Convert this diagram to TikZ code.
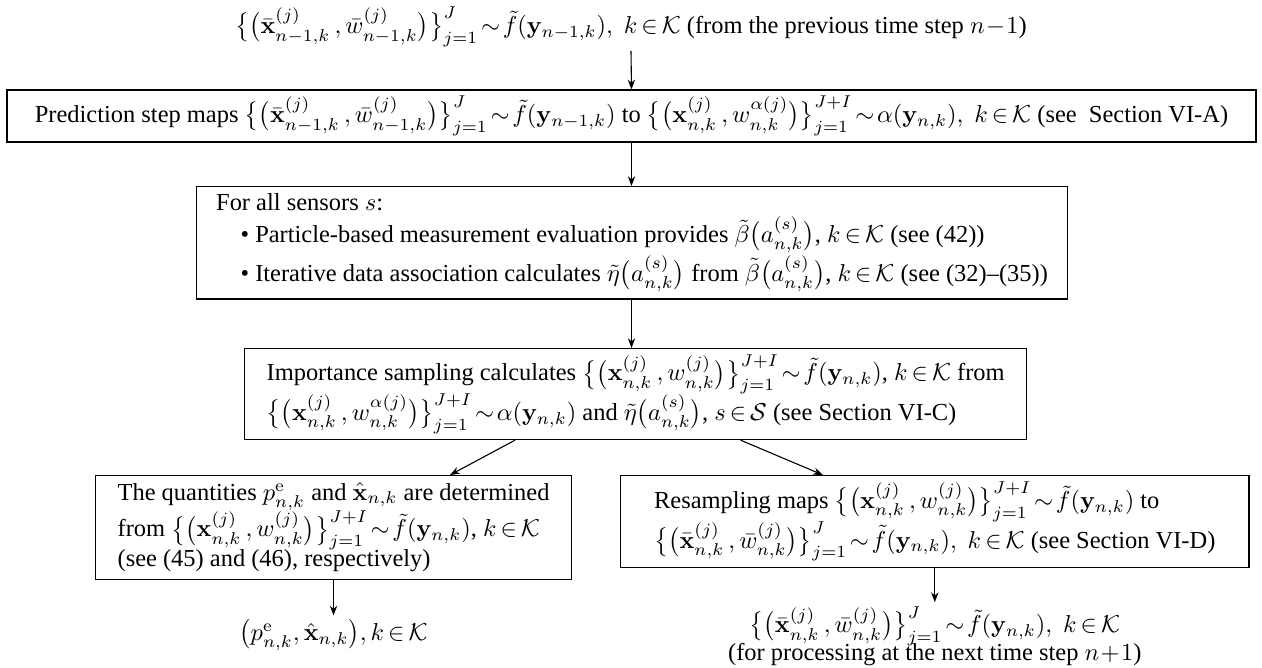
\documentclass[tikz,border=0pt]{standalone}
\usepackage{amsmath}
\usepackage[no-math]{fontspec}
\setmainfont{Liberation Serif}
\usetikzlibrary{arrows.meta,calc}
\newcommand{\PartBar}[1]{\big\{\big(\bar{\mathbf{x}}^{(j)}_{#1}\,, \bar{w}^{(j)}_{#1}\big)\big\}_{j=1}^{J}}
\newcommand{\PartW}{\big\{\big(\mathbf{x}^{(j)}_{n,k}\,, w^{(j)}_{n,k}\big)\big\}_{j=1}^{J+I}}
\newcommand{\PartA}{\big\{\big(\mathbf{x}^{(j)}_{n,k}\,, w^{\alpha(j)}_{n,k}\big)\big\}_{j=1}^{J+I}}
\newcommand{\Kset}{k\,{\in}\,\mathcal{K}}
\newcommand{\Aset}[1]{a^{(s)}_{n,k}}
\newcommand{\tsim}{\!\sim\!}
\begin{document}
\begin{tikzpicture}[x=0.409pt,y=-0.409pt,
  box/.style={draw,line width=0.5pt,inner ysep=2pt},
  lbox/.style={box,align=left,anchor=north west,inner xsep=9pt},
  plain/.style={inner sep=1.5pt,align=center},
  arr/.style={-{Stealth[length=4pt,width=3pt,inset=1.3pt]},line width=0.45pt}]
\useasboundingbox (0,0) rectangle (1262,668);

\node[plain] (top) at (631,27)
  {$\PartBar{n-1,k}\tsim\tilde{f}(\mathbf{y}_{n-1,k}),\; \Kset$ (from the previous time step $n\!-\!1$)};

\node[box,minimum width=510.8pt,minimum height=21.3pt] (pred) at (631.5,116)
  {Prediction step maps $\PartBar{n-1,k}\tsim\tilde{f}(\mathbf{y}_{n-1,k})$ to $\PartA\tsim\alpha(\mathbf{y}_{n,k}),\; \Kset$ (see~ Section VI-A)};

\node[lbox,inner xsep=8pt,minimum height=46pt] (sens) at (196,186)
  {For all sensors $s$:\\[1pt]
   \hspace*{10pt}\textbullet\ Particle-based measurement evaluation provides $\tilde{\beta}\big(\Aset{}\big)$, $\Kset$ (see (42))\\[0pt]
   \hspace*{10pt}\textbullet\ Iterative data association calculates $\tilde{\eta}\big(\Aset{}\big)$ from $\tilde{\beta}\big(\Aset{}\big)$, $\Kset$ (see (32)–(35))};

\node[lbox,minimum height=37.2pt] (imp) at (244,348)
  {Importance sampling calculates $\PartW\tsim\tilde{f}(\mathbf{y}_{n,k})$, $\Kset$ from\\[-1pt]
   $\PartA\tsim\alpha(\mathbf{y}_{n,k})$ and $\tilde{\eta}\big(\Aset{}\big)$, $s\,{\in}\,\mathcal{S}$ (see Section VI-C)};

\node[lbox,minimum height=42.5pt] (left) at (95,475)
  {The quantities $p^{\mathrm{e}}_{n,k}$ and $\hat{\mathbf{x}}_{n,k}$ are determined\\[-1pt]
   from $\PartW\tsim\tilde{f}(\mathbf{y}_{n,k})$, $\Kset$\\[-1pt]
   (see (45) and (46), respectively)};

\node[lbox,inner xsep=6pt,minimum width=257pt,minimum height=37.6pt] (res) at (620,475)
  {Resampling maps $\PartW\tsim\tilde{f}(\mathbf{y}_{n,k})$ to\\[-1pt]
   $\PartBar{n,k}\tsim\tilde{f}(\mathbf{y}_{n,k}),\; \Kset$ (see Section VI-D)};

\node[plain] (bl) at ($(left.south)+(0,55)$)
  {$\big(p^{\mathrm{e}}_{n,k}, \hat{\mathbf{x}}_{n,k}\big), \Kset$};
\node[plain] (br) at ($(res.south)+(0,68)$)
  {$\PartBar{n,k}\tsim\tilde{f}(\mathbf{y}_{n,k}),\; \Kset$\\[-2pt]
   (for processing at the next time step $n\!+\!1$)};

\draw[arr] (top.south) -- (pred.north);
\draw[arr] (pred.south) -- (pred.south |- sens.north);
\draw[arr] (pred.south |- sens.south) -- (pred.south |- imp.north);
\draw[arr] ($(imp.south west)!0.346!(imp.south east)$) -- ($(left.north west)+(355,0)$);
\draw[arr] ($(imp.south west)!0.634!(imp.south east)$) -- ($(res.north west)+(203,0)$);
\draw[arr] (left.south) -- (bl.north);
\draw[arr] (res.south) -- (br.north);
\end{tikzpicture}
\end{document}
